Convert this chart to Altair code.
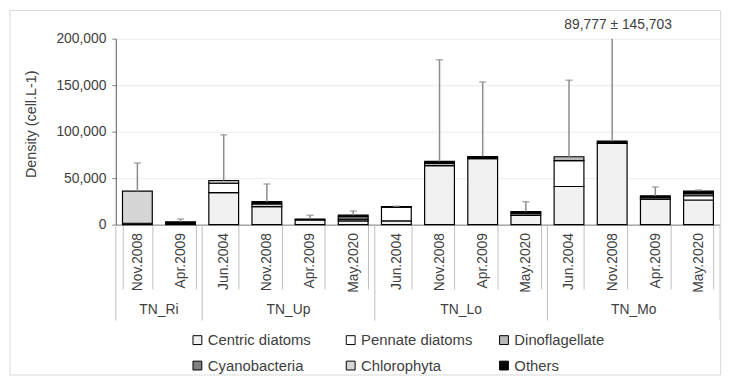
import altair as alt
import pandas as pd

# ---------------- data ----------------
sites = ["TN_Ri", "TN_Ri", "TN_Up", "TN_Up", "TN_Up", "TN_Up", "TN_Lo", "TN_Lo",
         "TN_Lo", "TN_Lo", "TN_Mo", "TN_Mo", "TN_Mo", "TN_Mo"]
dates = ["Nov.2008", "Apr.2009", "Jun.2004", "Nov.2008", "Apr.2009", "May.2020",
         "Jun.2004", "Nov.2008", "Apr.2009", "May.2020", "Jun.2004", "Nov.2008",
         "Apr.2009", "May.2020"]
groups = ["TN_Ri", "TN_Up", "TN_Lo", "TN_Mo"]
taxa = ["Centric diatoms", "Pennate diatoms", "Dinoflagellate",
        "Cyanobacteria", "Chlorophyta", "Others"]

centric = [1500, 0, 34500, 19400, 5000, 4000, 4000, 63500, 71000, 9900, 41000, 87477, 27500, 26500]
pennate = [0, 0, 10000, 0, 0, 2000, 14800, 0, 0, 0, 27800, 0, 0, 4600]
dino = [0, 0, 3000, 0, 0, 2500, 0, 2500, 0, 0, 4200, 0, 0, 2300]
cyano = [0, 0, 0, 0, 0, 0, 0, 0, 0, 2500, 0, 0, 2000, 0]
chloro = [34500, 0, 0, 3000, 0, 0, 0, 0, 0, 0, 0, 0, 0, 0]
others = [0, 3000, 0, 2300, 1000, 1700, 600, 2000, 2300, 1700, 0, 2300, 1500, 2600]
sd = [30300, 3000, 49100, 18900, 4200, 4600, 400, 109400, 80100, 10600, 82200, 145703, 9500, 1400]

y_ticks = [0, 50000, 100000, 150000, 200000]
fills = ["#f1f1f1", "#ffffff", "#b8b8b8", "#808080", "#d6d6d6", "#000000"]

# ---------------- tables ----------------
keys = [f"{s}|{d}" for s, d in zip(sites, dates)]
series = [centric, pennate, dino, cyano, chloro, others]
rows = []
for i, k in enumerate(keys):
    for j, t in enumerate(taxa):
        v = series[j][i]
        if v > 0:
            rows.append({"key": k, "taxon": t, "value": v, "ord": j})
df = pd.DataFrame(rows)

totals = [sum(s[i] for s in series) for i in range(len(keys))]
df_tot = pd.DataFrame({
    "key": keys, "total": totals, "sd": sd,
    "top": [t + e for t, e in zip(totals, sd)],
    "label": [f"{t:,} ± {e:,}" for t, e in zip(totals, sd)],
})

sizes = [sites.count(g) for g in groups]
bounds = [0]
for s in sizes:
    bounds.append(bounds[-1] + s)
df_sep = pd.DataFrame({"pos": bounds})
df_grp = pd.DataFrame({"group": groups,
                       "center": [(bounds[i] + bounds[i + 1]) / 2 for i in range(len(groups))]})

W, H = 611, 188
ymax = y_ticks[-1]
TXT = "#404040"
TICK = 65

xband = alt.X("key:N", sort=keys,
              scale=alt.Scale(paddingInner=0.31, paddingOuter=0.155),
              axis=alt.Axis(title=None, labelExpr="split(datum.label, '|')[1]",
                            labelAngle=-90, labelAlign="right", labelBaseline="middle",
                            labelPadding=8 - TICK, labelFontSize=14, labelColor=TXT,
                            tickBand="extent", tickSize=TICK, tickColor="#bfbfbf",
                            domainColor="#808080"))
yscale = alt.Scale(domain=[0, ymax], nice=False)
yaxis = alt.Axis(title="Density (cell.L-1)", values=y_ticks, format=",d",
                 labelFontSize=14, labelColor=TXT, labelPadding=6,
                 tickSize=4, tickColor="#808080", domainColor="#595959",
                 gridColor="#ececec", titleFontSize=14.5, titleFontWeight="normal",
                 titleColor=TXT, titleX=-85, titleY=86, titleAngle=-90,
                 titleAlign="center", titleBaseline="middle")

bars = alt.Chart(df).mark_bar(stroke="black", strokeWidth=1.2).encode(
    x=xband,
    y=alt.Y("value:Q", stack="zero", scale=yscale, axis=yaxis),
    color=alt.Color("taxon:N", scale=alt.Scale(domain=taxa, range=fills),
                    legend=alt.Legend(orient="none", legendX=75, legendY=297, columns=3,
                                      direction="horizontal", title=None,
                                      gridAlign="all", columnPadding=24, rowPadding=10,
                                      labelFontSize=15, labelColor=TXT, labelOffset=3,
                                      symbolType="square", symbolSize=80,
                                      symbolStrokeColor="black", symbolStrokeWidth=1)),
    order=alt.Order("ord:Q"),
)

err = alt.Chart(df_tot).mark_rule(color="#8c8c8c", strokeWidth=1.5, clip=True).encode(
    x=alt.X("key:N", sort=keys),
    y=alt.Y("total:Q", scale=yscale, axis=yaxis),
    y2="top:Q",
)
caps = alt.Chart(df_tot).mark_tick(color="#8c8c8c", thickness=1.5, size=7, clip=True).encode(
    x=alt.X("key:N", sort=keys),
    y=alt.Y("top:Q", scale=yscale, axis=yaxis),
)
note = alt.Chart(df_tot).transform_filter(f"datum.top > {ymax}").mark_text(
    fontSize=14, color=TXT, dx=6, baseline="middle").encode(
    x=alt.X("key:N", sort=keys),
    y=alt.value(-14),
    text="label:N",
)

inner = alt.layer(bars, err, caps, note)

qx = alt.Scale(domain=[0, bounds[-1]], nice=False, zero=True)
seps = alt.Chart(df_sep).mark_rule(color="#bfbfbf", strokeWidth=1).encode(
    x=alt.X("pos:Q", scale=qx, axis=None),
    y=alt.value(H),
    y2=alt.value(H + 97),
)
glab = alt.Chart(df_grp).mark_text(fontSize=14, color=TXT, baseline="middle").encode(
    x=alt.X("center:Q", scale=qx, axis=None),
    y=alt.value(H + 86),
    text="group:N",
)
frame = alt.Chart(alt.Data(values=[{"a": 1}])).mark_rect(
    fillOpacity=0, stroke="#d9d9d9", strokeWidth=1).encode(
    x=alt.value(-107), x2=alt.value(W + 0.5),
    y=alt.value(-28.5), y2=alt.value(H + 152),
)

chart = alt.layer(inner, alt.layer(seps, glab), frame).resolve_scale(x="independent").properties(
    width=W, height=H,
    autosize=alt.AutoSizeParams(type="none"),
    padding={"left": 109, "top": 29, "right": 8, "bottom": 152},
).configure(font="Liberation Sans").configure_view(stroke=None)

chart.save("out.html", embed_options={"renderer": "svg", "actions": False})
